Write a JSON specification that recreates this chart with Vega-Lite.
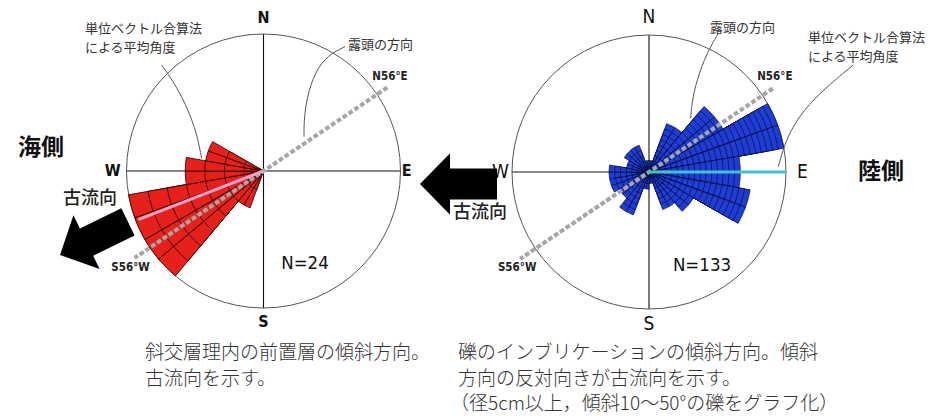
{
  "$schema": "https://vega.github.io/schema/vega-lite/v6.json",
  "width": 939,
  "height": 416,
  "autosize": {"type": "fit", "contains": "padding"},
  "padding": 0,
  "background": "white",
  "config": {"view": {"stroke": null}},
  "datasets": {
    "L": [
      {"a": 200, "b": 210, "k": [2, 1]},
      {"a": 210, "b": 220, "k": [2, 1]},
      {"a": 220, "b": 230, "k": [7, 6, 5, 4, 3, 2, 1]},
      {"a": 230, "b": 240, "k": [7, 6, 5, 4, 3, 2, 1]},
      {"a": 240, "b": 250, "k": [7, 6, 5, 4, 3, 2, 1]},
      {"a": 250, "b": 260, "k": [7, 6, 5, 4, 3, 2, 1]},
      {"a": 260, "b": 270, "k": [4, 3, 2, 1]},
      {"a": 270, "b": 280, "k": [4, 3, 2, 1]},
      {"a": 280, "b": 290, "k": [3, 2, 1]},
      {"a": 290, "b": 300, "k": [3, 2, 1]}
    ],
    "R": [
      {"a": 0, "b": 10, "k": [2, 1]},
      {"a": 10, "b": 20, "k": [2, 1]},
      {"a": 20, "b": 30, "k": [9, 8, 7, 6, 5, 4, 3, 2, 1]},
      {"a": 30, "b": 40, "k": [9, 8, 7, 6, 5, 4, 3, 2, 1]},
      {"a": 40, "b": 50, "k": [15, 14, 13, 12, 11, 10, 9, 8, 7, 6, 5, 4, 3, 2, 1]},
      {"a": 50, "b": 60, "k": [15, 14, 13, 12, 11, 10, 9, 8, 7, 6, 5, 4, 3, 2, 1]},
      {"a": 60, "b": 70, "k": [24, 23, 22, 21, 20, 19, 18, 17, 16, 15, 14, 13, 12, 11, 10, 9, 8, 7, 6, 5, 4, 3, 2, 1]},
      {"a": 70, "b": 80, "k": [24, 23, 22, 21, 20, 19, 18, 17, 16, 15, 14, 13, 12, 11, 10, 9, 8, 7, 6, 5, 4, 3, 2, 1]},
      {"a": 80, "b": 90, "k": [16, 15, 14, 13, 12, 11, 10, 9, 8, 7, 6, 5, 4, 3, 2, 1]},
      {"a": 90, "b": 100, "k": [16, 15, 14, 13, 12, 11, 10, 9, 8, 7, 6, 5, 4, 3, 2, 1]},
      {"a": 100, "b": 110, "k": [18, 17, 16, 15, 14, 13, 12, 11, 10, 9, 8, 7, 6, 5, 4, 3, 2, 1]},
      {"a": 110, "b": 120, "k": [18, 17, 16, 15, 14, 13, 12, 11, 10, 9, 8, 7, 6, 5, 4, 3, 2, 1]},
      {"a": 120, "b": 130, "k": [9, 8, 7, 6, 5, 4, 3, 2, 1]},
      {"a": 130, "b": 140, "k": [9, 8, 7, 6, 5, 4, 3, 2, 1]},
      {"a": 140, "b": 150, "k": [7, 6, 5, 4, 3, 2, 1]},
      {"a": 150, "b": 160, "k": [7, 6, 5, 4, 3, 2, 1]},
      {"a": 160, "b": 170, "k": [2, 1]},
      {"a": 170, "b": 180, "k": [2, 1]},
      {"a": 180, "b": 190, "k": [3, 2, 1]},
      {"a": 190, "b": 200, "k": [3, 2, 1]},
      {"a": 200, "b": 210, "k": [8, 7, 6, 5, 4, 3, 2, 1]},
      {"a": 210, "b": 220, "k": [8, 7, 6, 5, 4, 3, 2, 1]},
      {"a": 220, "b": 230, "k": [6, 5, 4, 3, 2, 1]},
      {"a": 230, "b": 240, "k": [6, 5, 4, 3, 2, 1]},
      {"a": 240, "b": 250, "k": [7, 6, 5, 4, 3, 2, 1]},
      {"a": 250, "b": 260, "k": [7, 6, 5, 4, 3, 2, 1]},
      {"a": 260, "b": 270, "k": [7, 6, 5, 4, 3, 2, 1]},
      {"a": 270, "b": 280, "k": [7, 6, 5, 4, 3, 2, 1]},
      {"a": 280, "b": 290, "k": [4, 3, 2, 1]},
      {"a": 290, "b": 300, "k": [4, 3, 2, 1]},
      {"a": 300, "b": 310, "k": [5, 4, 3, 2, 1]},
      {"a": 310, "b": 320, "k": [5, 4, 3, 2, 1]},
      {"a": 320, "b": 330, "k": [5, 4, 3, 2, 1]},
      {"a": 330, "b": 340, "k": [5, 4, 3, 2, 1]},
      {"a": 340, "b": 350, "k": [2, 1]},
      {"a": 350, "b": 360, "k": [2, 1]}
    ],
    "axes": [
      {"a": 0, "r": 1}, {"a": 90, "r": 1}, {"a": 180, "r": 1}, {"a": 270, "r": 1}
    ],
    "outcrop": [
      {"a": 56, "r": 1.09}, {"a": 236, "r": 1.135}
    ]
  },
  "resolve": {"scale": {"radius": "independent"}},
  "layer": [
    {
      "encoding": {
        "x": {"datum": 263.5, "type": "quantitative", "scale": {"domain": [0, 939], "nice": false, "zero": false}, "axis": null},
        "y": {"datum": 171, "type": "quantitative", "scale": {"domain": [0, 416], "nice": false, "zero": false, "reverse": true}, "axis": null}
      },
      "resolve": {"scale": {"radius": "independent"}},
      "layer": [
        {
          "data": {"name": "axes"},
          "mark": {"type": "arc", "filled": false, "stroke": "#111111", "strokeWidth": 1.1},
          "encoding": {
            "theta": {"field": "a", "type": "quantitative", "scale": {"domain": [0, 360], "nice": false, "zero": false}, "stack": null},
            "theta2": {"field": "a"},
            "radius": {"field": "r", "type": "quantitative", "scale": {"type": "linear", "domain": [0, 1], "range": [0, 137], "nice": false, "zero": true}, "stack": null}
          }
        },
        {
          "data": {"values": [{"a0": 0, "a1": 360, "r": 1}]},
          "mark": {"type": "arc", "filled": false, "stroke": "#555555", "strokeWidth": 1},
          "encoding": {
            "theta": {"field": "a0", "type": "quantitative", "scale": {"domain": [0, 360], "nice": false, "zero": false}, "stack": null},
            "theta2": {"field": "a1"},
            "radius": {"field": "r", "type": "quantitative", "scale": {"type": "linear", "domain": [0, 1], "range": [0, 137], "nice": false, "zero": true}, "stack": null}
          }
        },
        {
          "data": {"name": "L"},
          "transform": [{"flatten": ["k"]}],
          "mark": {"type": "arc", "fill": "#e6211b", "stroke": "#3a0806", "strokeWidth": 0.9},
          "encoding": {
            "theta": {"field": "a", "type": "quantitative", "scale": {"domain": [0, 360], "nice": false, "zero": false}, "stack": null},
            "theta2": {"field": "b"},
            "radius": {"field": "k", "type": "quantitative", "scale": {"type": "linear", "domain": [0, 7], "range": [0, 137], "nice": false, "zero": true}, "stack": null}
          }
        },
        {
          "data": {"name": "outcrop"},
          "mark": {"type": "arc", "filled": false, "stroke": "#a6a6a6", "strokeWidth": 4, "strokeDash": [4, 3]},
          "encoding": {
            "theta": {"field": "a", "type": "quantitative", "scale": {"domain": [0, 360], "nice": false, "zero": false}, "stack": null},
            "theta2": {"field": "a"},
            "radius": {"field": "r", "type": "quantitative", "scale": {"type": "linear", "domain": [0, 1], "range": [0, 137], "nice": false, "zero": true}, "stack": null}
          }
        },
        {
          "data": {"values": [{"a": 248.8, "r": 0.98}]},
          "mark": {"type": "arc", "filled": false, "stroke": "#f4a0c8", "strokeWidth": 3},
          "encoding": {
            "theta": {"field": "a", "type": "quantitative", "scale": {"domain": [0, 360], "nice": false, "zero": false}, "stack": null},
            "theta2": {"field": "a"},
            "radius": {"field": "r", "type": "quantitative", "scale": {"type": "linear", "domain": [0, 1], "range": [0, 137], "nice": false, "zero": true}, "stack": null}
          }
        },
        {
          "data": {"values": [{"t": "N", "a": 0, "r": 1.12}, {"t": "E", "a": 90, "r": 1.045}, {"t": "S", "a": 180, "r": 1.105}, {"t": "W", "a": 270, "r": 1.1}]},
          "mark": {"type": "text", "font": "'Liberation Sans Narrow', 'DejaVu Sans Condensed', 'Liberation Sans', sans-serif", "fontSize": 16, "fontWeight": "bold", "color": "#111111", "align": "center", "baseline": "middle"},
          "encoding": {
            "text": {"field": "t"},
            "theta": {"field": "a", "type": "quantitative", "scale": {"domain": [0, 360], "nice": false, "zero": false}},
            "radius": {"field": "r", "type": "quantitative", "scale": {"type": "linear", "domain": [0, 1], "range": [0, 137], "nice": false, "zero": true}}
          }
        },
        {
          "data": {"values": [{"t": "N56°E", "a": 53.4, "r": 1.15}, {"t": "S56°W", "a": 234, "r": 1.2}]},
          "mark": {"type": "text", "font": "'Liberation Sans Narrow', 'DejaVu Sans Condensed', 'Liberation Sans', sans-serif", "fontSize": 11.5, "fontWeight": "bold", "color": "#222222", "align": "center", "baseline": "middle"},
          "encoding": {
            "text": {"field": "t"},
            "theta": {"field": "a", "type": "quantitative", "scale": {"domain": [0, 360], "nice": false, "zero": false}},
            "radius": {"field": "r", "type": "quantitative", "scale": {"type": "linear", "domain": [0, 1], "range": [0, 137], "nice": false, "zero": true}}
          }
        }
      ]
    },
    {
      "encoding": {
        "x": {"datum": 649, "type": "quantitative", "scale": {"domain": [0, 939], "nice": false, "zero": false}, "axis": null},
        "y": {"datum": 172, "type": "quantitative", "scale": {"domain": [0, 416], "nice": false, "zero": false, "reverse": true}, "axis": null}
      },
      "resolve": {"scale": {"radius": "independent"}},
      "layer": [
        {
          "data": {"name": "axes"},
          "mark": {"type": "arc", "filled": false, "stroke": "#111111", "strokeWidth": 1.1},
          "encoding": {
            "theta": {"field": "a", "type": "quantitative", "scale": {"domain": [0, 360], "nice": false, "zero": false}, "stack": null},
            "theta2": {"field": "a"},
            "radius": {"field": "r", "type": "quantitative", "scale": {"type": "linear", "domain": [0, 1], "range": [0, 137], "nice": false, "zero": true}, "stack": null}
          }
        },
        {
          "data": {"values": [{"a0": 0, "a1": 360, "r": 1}]},
          "mark": {"type": "arc", "filled": false, "stroke": "#555555", "strokeWidth": 1},
          "encoding": {
            "theta": {"field": "a0", "type": "quantitative", "scale": {"domain": [0, 360], "nice": false, "zero": false}, "stack": null},
            "theta2": {"field": "a1"},
            "radius": {"field": "r", "type": "quantitative", "scale": {"type": "linear", "domain": [0, 1], "range": [0, 137], "nice": false, "zero": true}, "stack": null}
          }
        },
        {
          "data": {"name": "R"},
          "transform": [{"flatten": ["k"]}],
          "mark": {"type": "arc", "fill": "#1f3cd4", "stroke": "#07103f", "strokeWidth": 0.7},
          "encoding": {
            "theta": {"field": "a", "type": "quantitative", "scale": {"domain": [0, 360], "nice": false, "zero": false}, "stack": null},
            "theta2": {"field": "b"},
            "radius": {"field": "k", "type": "quantitative", "scale": {"type": "linear", "domain": [0, 24], "range": [0, 137], "nice": false, "zero": true}, "stack": null}
          }
        },
        {
          "data": {"name": "outcrop"},
          "mark": {"type": "arc", "filled": false, "stroke": "#a6a6a6", "strokeWidth": 4, "strokeDash": [4, 3]},
          "encoding": {
            "theta": {"field": "a", "type": "quantitative", "scale": {"domain": [0, 360], "nice": false, "zero": false}, "stack": null},
            "theta2": {"field": "a"},
            "radius": {"field": "r", "type": "quantitative", "scale": {"type": "linear", "domain": [0, 1], "range": [0, 137], "nice": false, "zero": true}, "stack": null}
          }
        },
        {
          "data": {"values": [{"a": 90, "r": 1.0}]},
          "mark": {"type": "arc", "filled": false, "stroke": "#3cc4d4", "strokeWidth": 3},
          "encoding": {
            "theta": {"field": "a", "type": "quantitative", "scale": {"domain": [0, 360], "nice": false, "zero": false}, "stack": null},
            "theta2": {"field": "a"},
            "radius": {"field": "r", "type": "quantitative", "scale": {"type": "linear", "domain": [0, 1], "range": [0, 137], "nice": false, "zero": true}, "stack": null}
          }
        },
        {
          "data": {"values": [{"t": "N", "a": 0, "r": 1.13}, {"t": "E", "a": 90, "r": 1.12}, {"t": "S", "a": 180, "r": 1.11}, {"t": "W", "a": 270, "r": 1.085}]},
          "mark": {"type": "text", "font": "'Liberation Sans Narrow', 'DejaVu Sans Condensed', 'Liberation Sans', sans-serif", "fontSize": 19, "color": "#111111", "align": "center", "baseline": "middle"},
          "encoding": {
            "text": {"field": "t"},
            "theta": {"field": "a", "type": "quantitative", "scale": {"domain": [0, 360], "nice": false, "zero": false}},
            "radius": {"field": "r", "type": "quantitative", "scale": {"type": "linear", "domain": [0, 1], "range": [0, 137], "nice": false, "zero": true}}
          }
        },
        {
          "data": {"values": [{"t": "N56°E", "a": 53, "r": 1.15}, {"t": "S56°W", "a": 234, "r": 1.19}]},
          "mark": {"type": "text", "font": "'Liberation Sans Narrow', 'DejaVu Sans Condensed', 'Liberation Sans', sans-serif", "fontSize": 11.5, "fontWeight": "bold", "color": "#222222", "align": "center", "baseline": "middle"},
          "encoding": {
            "text": {"field": "t"},
            "theta": {"field": "a", "type": "quantitative", "scale": {"domain": [0, 360], "nice": false, "zero": false}},
            "radius": {"field": "r", "type": "quantitative", "scale": {"type": "linear", "domain": [0, 1], "range": [0, 137], "nice": false, "zero": true}}
          }
        }
      ]
    },
    {
      "data": {"values": [
        {"id": "L1", "x": 161.7, "y": 65}, {"id": "L1", "x": 176.7, "y": 86.7}, {"id": "L1", "x": 188.3, "y": 110}, {"id": "L1", "x": 196.7, "y": 133.3}, {"id": "L1", "x": 201.7, "y": 158.3},
        {"id": "L2", "x": 345, "y": 46.7}, {"id": "L2", "x": 328, "y": 55}, {"id": "L2", "x": 315, "y": 71.7}, {"id": "L2", "x": 307, "y": 96.7}, {"id": "L2", "x": 304, "y": 120}, {"id": "L2", "x": 304, "y": 136.7},
        {"id": "R1", "x": 718.3, "y": 33.3}, {"id": "R1", "x": 706.7, "y": 53.3}, {"id": "R1", "x": 696.7, "y": 80}, {"id": "R1", "x": 691.7, "y": 103.3}, {"id": "R1", "x": 690.7, "y": 118.3},
        {"id": "R2", "x": 853.3, "y": 65}, {"id": "R2", "x": 826.7, "y": 86.7}, {"id": "R2", "x": 803.3, "y": 110}, {"id": "R2", "x": 786.7, "y": 136.7}, {"id": "R2", "x": 778.3, "y": 166.7}
      ]},
      "mark": {"type": "line", "color": "#555555", "strokeWidth": 1, "interpolate": "basis"},
      "encoding": {
        "x": {"field": "x", "type": "quantitative", "scale": {"domain": [0, 939], "nice": false, "zero": false}, "axis": null},
        "y": {"field": "y", "type": "quantitative", "scale": {"domain": [0, 416], "nice": false, "zero": false, "reverse": true}, "axis": null},
        "detail": {"field": "id"},
        "order": {"value": null}
      }
    },
    {
      "data": {"values": [
        {"t": "単位ベクトル合算法", "x": 85, "y": 29},
        {"t": "による平均角度", "x": 85, "y": 47.5},
        {"t": "露頭の方向", "x": 348, "y": 45},
        {"t": "露頭の方向", "x": 710, "y": 28},
        {"t": "単位ベクトル合算法", "x": 808, "y": 38},
        {"t": "による平均角度", "x": 808, "y": 56.5}
      ]},
      "mark": {"type": "text", "font": "Noto Sans CJK JP", "fontSize": 13, "color": "#333333", "align": "left", "baseline": "middle"},
      "encoding": {
        "x": {"field": "x", "type": "quantitative", "scale": {"domain": [0, 939], "nice": false, "zero": false}, "axis": null},
        "y": {"field": "y", "type": "quantitative", "scale": {"domain": [0, 416], "nice": false, "zero": false, "reverse": true}, "axis": null},
        "text": {"field": "t"}
      }
    },
    {
      "data": {"values": [{"t": "N=24", "x": 305, "y": 263}, {"t": "N=133", "x": 702, "y": 265}]},
      "mark": {"type": "text", "font": "'Liberation Sans Narrow', 'DejaVu Sans Condensed', 'Liberation Sans', sans-serif", "fontSize": 18.5, "color": "#111111", "align": "center", "baseline": "middle"},
      "encoding": {
        "x": {"field": "x", "type": "quantitative", "scale": {"domain": [0, 939], "nice": false, "zero": false}, "axis": null},
        "y": {"field": "y", "type": "quantitative", "scale": {"domain": [0, 416], "nice": false, "zero": false, "reverse": true}, "axis": null},
        "text": {"field": "t"}
      }
    },
    {
      "data": {"values": [{"t": "海側", "x": 41, "y": 148}, {"t": "陸側", "x": 881, "y": 172}]},
      "mark": {"type": "text", "font": "Noto Sans CJK JP", "fontSize": 23, "fontWeight": "bold", "color": "#111111", "align": "center", "baseline": "middle"},
      "encoding": {
        "x": {"field": "x", "type": "quantitative", "scale": {"domain": [0, 939], "nice": false, "zero": false}, "axis": null},
        "y": {"field": "y", "type": "quantitative", "scale": {"domain": [0, 416], "nice": false, "zero": false, "reverse": true}, "axis": null},
        "text": {"field": "t"}
      }
    },
    {
      "data": {"values": [{"t": "古流向", "x": 90, "y": 199}, {"t": "古流向", "x": 480, "y": 213}]},
      "mark": {"type": "text", "font": "Noto Sans CJK JP", "fontSize": 18, "fontWeight": 500, "color": "#222222", "align": "center", "baseline": "middle"},
      "encoding": {
        "x": {"field": "x", "type": "quantitative", "scale": {"domain": [0, 939], "nice": false, "zero": false}, "axis": null},
        "y": {"field": "y", "type": "quantitative", "scale": {"domain": [0, 416], "nice": false, "zero": false, "reverse": true}, "axis": null},
        "text": {"field": "t"}
      }
    },
    {
      "data": {"values": [
        {"t": "斜交層理内の前置層の傾斜方向。", "x": 145, "y": 353},
        {"t": "古流向を示す。", "x": 145, "y": 379},
        {"t": "礫のインブリケーションの傾斜方向。傾斜", "x": 458, "y": 353},
        {"t": "方向の反対向きが古流向を示す。", "x": 458, "y": 379},
        {"t": "（径5cm以上，傾斜10～50°の礫をグラフ化）", "x": 450, "y": 404}
      ]},
      "mark": {"type": "text", "font": "Noto Sans CJK JP", "fontSize": 19, "fontWeight": 300, "color": "#333333", "align": "left", "baseline": "middle"},
      "encoding": {
        "x": {"field": "x", "type": "quantitative", "scale": {"domain": [0, 939], "nice": false, "zero": false}, "axis": null},
        "y": {"field": "y", "type": "quantitative", "scale": {"domain": [0, 416], "nice": false, "zero": false, "reverse": true}, "axis": null},
        "text": {"field": "t"}
      }
    },
    {
      "data": {"values": [{"x": 94, "y": 238.5}]},
      "mark": {"type": "point", "shape": "M -1 -0.4 L 0.22 -0.4 L 0.22 -0.79 L 1 0 L 0.22 0.79 L 0.22 0.4 L -1 0.4 Z", "size": 5715, "angle": 154, "filled": true, "fill": "#000000", "strokeWidth": 0, "opacity": 1},
      "encoding": {
        "x": {"field": "x", "type": "quantitative", "scale": {"domain": [0, 939], "nice": false, "zero": false}, "axis": null},
        "y": {"field": "y", "type": "quantitative", "scale": {"domain": [0, 416], "nice": false, "zero": false, "reverse": true}, "axis": null}
      }
    },
    {
      "data": {"values": [{"x": 458.5, "y": 184}]},
      "mark": {"type": "point", "shape": "M -1 -0.4 L 0.22 -0.4 L 0.22 -0.8 L 1 0 L 0.22 0.8 L 0.22 0.4 L -1 0.4 Z", "size": 5929, "angle": 180, "filled": true, "fill": "#000000", "strokeWidth": 0, "opacity": 1},
      "encoding": {
        "x": {"field": "x", "type": "quantitative", "scale": {"domain": [0, 939], "nice": false, "zero": false}, "axis": null},
        "y": {"field": "y", "type": "quantitative", "scale": {"domain": [0, 416], "nice": false, "zero": false, "reverse": true}, "axis": null}
      }
    }
  ]
}
